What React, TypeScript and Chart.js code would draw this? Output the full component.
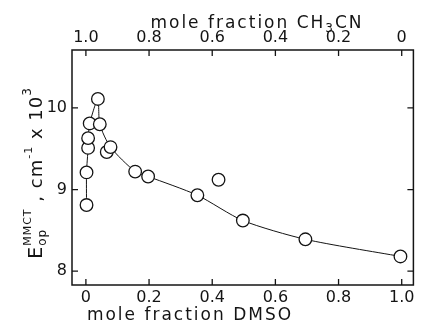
import React, { useEffect, useRef } from 'react';
import { Chart, registerables } from 'chart.js';

Chart.register(...registerables);

// Measured points (mole fraction DMSO, E_op in 10^3 cm^-1)
const dmsoFraction = [0.002, 0.002, 0.007, 0.007, 0.012, 0.038, 0.044, 0.066, 0.078, 0.156, 0.197, 0.353, 0.42, 0.497, 0.695, 0.996];
const energy = [8.81, 9.21, 9.51, 9.63, 9.81, 10.11, 9.8, 9.46, 9.52, 9.22, 9.16, 8.93, 9.12, 8.62, 8.39, 8.18];

// Hand-drawn guide curve through the points
const curveDmso = [0.002, 0.002, 0.007, 0.007, 0.012, 0.038, 0.044, 0.078, 0.156, 0.197, 0.353, 0.497, 0.695, 0.996];
const curveEnergy = [8.81, 9.21, 9.51, 9.63, 9.81, 10.11, 9.8, 9.52, 9.22, 9.16, 8.93, 8.62, 8.39, 8.18];

const bottomTicks = [0, 0.2, 0.4, 0.6, 0.8, 1.0];
const bottomTickLabels = ['0', '0.2', '0.4', '0.6', '0.8', '1.0'];
const topTicks = [1.0, 0.8, 0.6, 0.4, 0.2, 0];
const topTickLabels = ['1.0', '0.8', '0.6', '0.4', '0.2', '0'];
const yTicks = [8, 9, 10];
const yTickLabels = ['8', '9', '10'];

const xMin = -0.044;
const xMax = 1.037;
const yMin = 7.83;
const yMax = 10.71;

const INK = '#141414';
const FONT = '"DejaVu Sans", sans-serif';

type Run = { text: string; size: number; dy: number; stack?: boolean };

function runsWidth(ctx: CanvasRenderingContext2D, runs: Run[]) {
  let w = 0;
  let last = 0;
  for (const r of runs) {
    ctx.font = `${r.size}px ${FONT}`;
    const m = ctx.measureText(r.text).width;
    if (r.stack) {
      w += Math.max(0, m - last);
      last = Math.max(last, m);
    } else {
      w += m;
      last = m;
    }
  }
  return w;
}

function drawRuns(ctx: CanvasRenderingContext2D, runs: Run[], cx: number, baseline: number) {
  const total = runsWidth(ctx, runs);
  let x = cx - total / 2;
  let prevX = x;
  let prevW = 0;
  for (const r of runs) {
    ctx.font = `${r.size}px ${FONT}`;
    const m = ctx.measureText(r.text).width;
    if (r.stack) {
      ctx.fillText(r.text, prevX, baseline + r.dy);
      const end = Math.max(prevX + prevW, prevX + m);
      x = end;
      prevW = Math.max(prevW, m);
    } else {
      ctx.fillText(r.text, x, baseline + r.dy);
      prevX = x;
      prevW = m;
      x += m;
    }
  }
}

const framePlugin = {
  id: 'frameAndTitles',
  afterDraw(chart: any) {
    const { ctx, chartArea, scales } = chart;
    const { left, right, top, bottom } = chartArea;
    ctx.save();
    ctx.strokeStyle = INK;
    ctx.fillStyle = INK;
    ctx.lineWidth = 1.5;
    ctx.strokeRect(left, top, right - left, bottom - top);
    ctx.lineWidth = 1.3;
    const tl = 6;
    ctx.beginPath();
    for (const v of bottomTicks) {
      const px = scales.x.getPixelForValue(v);
      ctx.moveTo(px, bottom);
      ctx.lineTo(px, bottom - tl);
    }
    for (const v of topTicks) {
      const px = scales.x2.getPixelForValue(v);
      ctx.moveTo(px, top);
      ctx.lineTo(px, top + tl);
    }
    for (const v of yTicks) {
      const py = scales.y.getPixelForValue(v);
      ctx.moveTo(left, py);
      ctx.lineTo(left + tl, py);
      ctx.moveTo(right, py);
      ctx.lineTo(right - tl, py);
    }
    ctx.stroke();

    ctx.textBaseline = 'alphabetic';
    ctx.textAlign = 'left';
    try { (ctx as any).letterSpacing = '2px'; } catch (e) {}
    drawRuns(ctx, [{ text: 'mole fraction DMSO', size: 17, dy: 0 }], 190, 320);
    drawRuns(
      ctx,
      [
        { text: 'mole fraction CH', size: 17, dy: 0 },
        { text: '3', size: 12, dy: 4 },
        { text: 'CN', size: 17, dy: 0 },
      ],
      257,
      28
    );
    try { (ctx as any).letterSpacing = '1px'; } catch (e) {}
    ctx.save();
    ctx.translate(42, 173);
    ctx.rotate(-Math.PI / 2);
    drawRuns(
      ctx,
      [
        { text: 'E', size: 19, dy: 0 },
        { text: 'op', size: 12, dy: 4 },
        { text: 'MMCT', size: 11, dy: -11, stack: true },
        { text: ' , cm', size: 18, dy: 0 },
        { text: '-1', size: 11, dy: -10 },
        { text: ' x 10', size: 18, dy: 0 },
        { text: '3', size: 12, dy: -11 },
      ],
      0,
      0
    );
    ctx.restore();
    try { (ctx as any).letterSpacing = '0px'; } catch (e) {}
    ctx.restore();
  },
};

function labelFor(values: number[], labels: string[]) {
  return (value: any) => {
    const i = values.findIndex((v) => Math.abs(v - Number(value)) < 1e-6);
    return i >= 0 ? labels[i] : '';
  };
}

export default function App() {
  const canvasRef = useRef<HTMLCanvasElement | null>(null);

  useEffect(() => {
    if (!canvasRef.current) return;
    const points = dmsoFraction.map((x, i) => ({ x, y: energy[i] }));
    const curve = curveDmso.map((x, i) => ({ x, y: curveEnergy[i] }));
    const tickFont = { family: FONT, size: 16 };

    const chart = new Chart(canvasRef.current, {
      type: 'scatter',
      data: {
        datasets: [
          {
            label: 'points',
            data: points,
            showLine: false,
            pointRadius: 6.3,
            pointBorderWidth: 1.3,
            pointBackgroundColor: '#ffffff',
            pointBorderColor: INK,
            order: 0,
          },
          {
            label: 'curve',
            data: curve,
            showLine: true,
            borderColor: INK,
            borderWidth: 1,
            tension: 0.25,
            pointRadius: 0,
            order: 1,
          },
        ],
      },
      options: {
        animation: false,
        responsive: false,
        devicePixelRatio: 1,
        layout: { padding: { left: 0, right: 2, top: 0, bottom: 0 } },
        plugins: { legend: { display: false }, tooltip: { enabled: false } },
        scales: {
          x: {
            type: 'linear',
            position: 'bottom',
            min: xMin,
            max: xMax,
            grid: { display: false, drawTicks: false },
            border: { display: false },
            afterBuildTicks: (s: any) => { s.ticks = bottomTicks.map((v) => ({ value: v })); },
            afterFit: (s: any) => { s.height = 46; },
            ticks: { color: INK, font: tickFont, padding: 3, maxRotation: 0, callback: labelFor(bottomTicks, bottomTickLabels) },
          },
          x2: {
            type: 'linear',
            position: 'top',
            reverse: true,
            min: 1 - xMax,
            max: 1 - xMin,
            grid: { display: false, drawTicks: false },
            border: { display: false },
            afterBuildTicks: (s: any) => { s.ticks = topTicks.map((v) => ({ value: v })); },
            afterFit: (s: any) => { s.height = 50; },
            ticks: { color: INK, font: tickFont, padding: 3, maxRotation: 0, callback: labelFor(topTicks, topTickLabels) },
          },
          y: {
            type: 'linear',
            position: 'left',
            min: yMin,
            max: yMax,
            grid: { display: false, drawTicks: false },
            border: { display: false },
            afterBuildTicks: (s: any) => { s.ticks = yTicks.map((v) => ({ value: v })); },
            afterFit: (s: any) => { s.width = 72; },
            ticks: { color: INK, font: tickFont, padding: 5, callback: labelFor(yTicks, yTickLabels) },
          },
        },
      } as any,
      plugins: [framePlugin],
    });
    return () => chart.destroy();
  }, []);

  return (
    <div style={{ position: 'absolute', left: 0, top: 0, width: 421, height: 331, background: '#fff' }}>
      <canvas ref={canvasRef} width={421} height={331} style={{ width: 421, height: 331, display: 'block' }} />
    </div>
  );
}
